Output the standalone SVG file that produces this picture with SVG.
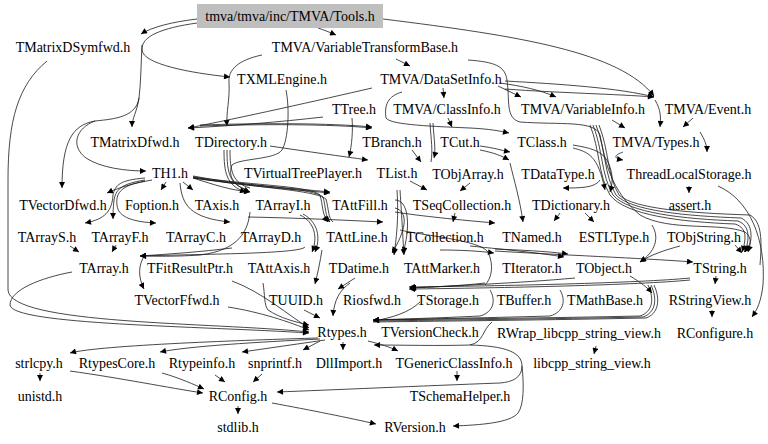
<svg xmlns="http://www.w3.org/2000/svg" width="768" height="444" viewBox="0 0 768 444">
<defs>
<marker id="ah" viewBox="0 0 10 10" refX="10" refY="5" markerWidth="8" markerHeight="6" markerUnits="userSpaceOnUse" orient="auto">
<path d="M0,0 L10,5 L0,10 z" fill="#000"/>
</marker>
<style>
text{font-family:"Liberation Serif","Times New Roman",serif;font-size:14px;fill:#000;text-anchor:middle}
.e path{fill:none;stroke:#1a1a1a;stroke-width:0.8}
.e .a{marker-end:url(#ah)}
</style>
</defs>
<rect width="768" height="444" fill="#fff"/>
<g class="e" id="edges">
<path class="a" d="M197,19 C172,22 152,27 141,34"/>
<path class="a" d="M318,28 C324,30 329,32 336,35"/>
<path class="a" d="M383,19 C520,36 620,52 654,96"/>
<path class="a" d="M197,23 C162,28 141,36 142,50 C143,64 190,73 230,77"/>
<path class="a" d="M142,45 C141,62 141,82 139,98 C137,112 132,118 132,127"/>
<path class="a" d="M139,98 C136,117 115,119 95,121 C72,125 62,142 62,188"/>
<path class="a" d="M95,121 C76,128 70,146 86,158 C101,168 126,171 146,171"/>
<path class="a" d="M47,61 C18,85 8,120 8,180 L8,290 C10,325 210,322 309,332"/>
<path class="a" d="M262,55 C238,60 228,70 229,82 C230,100 226,112 227,126"/>
<path class="a" d="M396,59 L410,66"/>
<path class="a" d="M468,60 C495,62 505,66 507,80 C510,100 505,118 520,122 C560,125 595,120 600,135 C605,160 610,190 640,215 C670,232 720,222 745,232 C755,240 748,248 744,252"/>
<path class="a" d="M443,88 L444,98"/>
<path class="a" d="M498,86 L521,97"/>
<path class="a" d="M500,83 C522,86 540,90 556,97"/>
<path class="a" d="M505,81 C560,84 620,88 654,97"/>
<path class="a" d="M505,89 C560,93 615,94 654,97"/>
<path class="a" d="M655,100 C661,110 661,118 660,127"/>
<path class="a" d="M693,118 L683,127"/>
<path class="a" d="M612,120 L625,128"/>
<path class="a" d="M372,88 C320,100 240,118 188,128"/>
<path class="a" d="M323,117 C280,122 230,126 188,128"/>
<path class="a" d="M200,125 C260,123 330,123 372,127"/>
<path class="a" d="M200,126 C260,124 330,124 372,128"/>
<path class="a" d="M402,92 C388,96 384,105 386,118 C390,124 420,126 470,128 C490,129 500,131 509,133"/>
<path class="a" d="M448,118 L452,127"/>
<path d="M430,123 C431,140 433,150 431,162"/>
<path class="a" d="M433,123 C434,140 436,150 434,158"/>
<path class="a" d="M270,146 C310,152 340,156 368,160"/>
<path class="a" d="M352,118 C353,130 352,145 349,157"/>
<path class="a" d="M286,90 C290,110 288,140 282,150 C275,160 240,158 232,165 C228,175 232,185 250,192"/>
<path class="a" d="M412,150 L421,162"/>
<path class="a" d="M480,150 C495,153 502,156 509,160"/>
<path class="a" d="M480,146 C495,148 500,150 510,152"/>
<path class="a" d="M623,152 C615,155 612,158 623,160"/>
<path class="a" d="M700,132 C705,140 707,146 707,152"/>
<path class="a" d="M689,186 L689,193"/>
<path class="a" d="M152,180 C135,183 120,187 107,193"/>
<path class="a" d="M166,182 L161,190"/>
<path class="a" d="M183,182 L193,190"/>
<path class="a" d="M193,178 C215,185 230,190 250,192"/>
<path class="a" d="M193,176 C240,185 290,188 330,192"/>
<path class="a" d="M193,177 C240,186 290,189 330,193"/>
<path class="a" d="M193,177 C260,186 310,186 320,195 C323,205 322,215 328,222"/>
<path class="a" d="M193,178 C260,187 312,188 323,197 C326,207 325,217 330,222"/>
<path d="M193,178 C260,188 314,190 326,199 C329,210 328,218 333,222"/>
<path class="a" d="M145,178 C120,180 115,185 113,195 C112,215 100,220 85,223"/>
<path class="a" d="M145,180 C120,184 116,190 114,200 C113,210 113,215 113,219"/>
<path class="a" d="M145,181 C118,186 116,195 117,205 C118,218 135,222 156,223"/>
<path class="a" d="M180,183 C182,205 190,218 230,222"/>
<path class="a" d="M248,217 C300,218 340,220 383,222"/>
<path class="a" d="M224,150 C224,172 226,186 246,192"/>
<path d="M227,150 C227,172 229,185 248,190"/>
<path d="M230,150 C230,170 232,183 250,188"/>
<path class="a" d="M145,255 C138,265 138,277 144,289"/>
<path class="a" d="M70,246 L79,252"/>
<path class="a" d="M116,245 L112,252"/>
<path class="a" d="M250,212 C248,230 240,250 200,255 C170,257 150,256 140,256"/>
<path class="a" d="M305,247 C300,254 200,254 140,256"/>
<path class="a" d="M232,248 C200,252 170,254 140,256"/>
<path class="a" d="M300,215 C315,222 318,238 312,252"/>
<path class="a" d="M303,214 C318,222 321,238 315,252"/>
<path class="a" d="M72,272 C40,278 10,290 10,305 C12,325 200,326 309,333"/>
<path class="a" d="M228,307 C260,312 290,322 309,330"/>
<path class="a" d="M232,281 C262,292 288,315 309,328"/>
<path class="a" d="M304,310 L320,318"/>
<path class="a" d="M350,283 C340,290 334,300 333,316"/>
<path class="a" d="M322,250 C320,262 318,272 315,284"/>
<path class="a" d="M355,278 L338,289"/>
<path class="a" d="M263,283 C265,295 264,305 268,310 C280,318 295,322 309,325"/>
<path class="a" d="M395,208 C410,212 405,232 392,253"/>
<path class="a" d="M395,200 C410,200 410,230 403,253"/>
<path class="a" d="M400,190 C402,220 403,240 404,255"/>
<path class="a" d="M397,190 C399,220 396,240 394,255"/>
<path class="a" d="M395,212 C420,216 460,220 495,223"/>
<path class="a" d="M410,181 L427,190"/>
<path class="a" d="M470,183 L460,191"/>
<path class="a" d="M455,213 L453,222"/>
<path class="a" d="M510,163 C514,180 520,200 523,222"/>
<path class="a" d="M600,180 C595,188 580,188 563,188"/>
<path class="a" d="M560,213 L554,221"/>
<path class="a" d="M585,213 L594,222"/>
<path class="a" d="M652,225 C660,238 655,252 640,262"/>
<path class="a" d="M495,249 C520,250 545,251 568,254"/>
<path class="a" d="M495,251 C560,255 640,258 693,262"/>
<path class="a" d="M440,250 C460,250 480,251 494,253"/>
<path class="a" d="M470,246 C510,250 540,253 564,257"/>
<path class="a" d="M735,245 L742,253"/>
<path class="a" d="M680,246 C665,250 650,255 640,262"/>
<path class="a" d="M590,125 C600,150 598,175 610,195 C625,215 680,222 735,224 C748,228 746,240 742,252"/>
<path class="a" d="M593,125 C603,150 601,175 613,195 C628,213 683,219 738,221 C751,226 749,240 745,252"/>
<path class="a" d="M596,125 C606,150 604,175 616,195 C631,211 686,216 741,218 C754,224 752,240 748,252"/>
<path d="M599,125 C609,150 607,175 619,195 C634,209 690,213 750,215 C762,222 762,240 760,265"/>
<path class="a" d="M573,145 C590,148 600,150 607,160 C612,170 614,180 610,192"/>
<path class="a" d="M573,148 C588,152 598,155 605,190"/>
<path class="a" d="M718,186 C750,200 766,240 763,285 C761,302 757,310 752,317"/>
<path class="a" d="M716,276 L715,284"/>
<path class="a" d="M712,310 L712,317"/>
<path class="a" d="M690,278 C640,283 500,286 409,287"/>
<path class="a" d="M690,280 C640,285 500,288 409,289"/>
<path class="a" d="M575,278 C520,283 450,286 410,288"/>
<path class="a" d="M485,283 C460,286 430,287 410,288"/>
<path d="M400,230 C420,235 480,240 488,252 C494,265 492,278 485,285"/>
<path class="a" d="M490,290 C496,300 494,312 480,316 C440,318 400,319 373,320"/>
<path class="a" d="M560,290 C566,300 564,312 550,316 C480,318 420,319 373,320"/>
<path class="a" d="M648,285 C655,300 652,312 640,316 C550,318 450,319 373,320"/>
<path d="M651,285 C658,300 655,313 643,317 C550,319 450,320 373,321"/>
<path d="M654,285 C661,300 658,314 646,318 C550,320 450,321 373,322"/>
<path class="a" d="M420,302 C410,312 392,318 373,321"/>
<path class="a" d="M630,276 C640,282 648,288 652,293"/>
<path class="a" d="M492,322 C482,330 484,342 470,345 C440,346 400,345 374,345"/>
<path class="a" d="M368,341 C380,344 390,347 398,351"/>
<path class="a" d="M470,345 C505,346 522,352 522,366 C522,378 512,382 500,383 C420,386 330,390 277,392"/>
<path class="a" d="M522,366 C524,385 524,405 518,413 C510,423 480,425 453,426"/>
<path class="a" d="M457,371 L457,381"/>
<path class="a" d="M596,346 L594,354"/>
<path class="a" d="M318,338 C250,340 100,345 70,353"/>
<path class="a" d="M320,339 C260,342 190,346 160,352"/>
<path class="a" d="M325,340 L242,352"/>
<path class="a" d="M320,341 L303,350"/>
<path class="a" d="M343,342 L343,350"/>
<path class="a" d="M40,373 L40,381"/>
<path class="a" d="M70,371 C120,378 170,388 203,393"/>
<path class="a" d="M162,373 C180,378 195,385 204,389"/>
<path class="a" d="M215,375 L225,382"/>
<path class="a" d="M262,374 L253,382"/>
<path class="a" d="M238,406 L238,414"/>
<path class="a" d="M272,403 C310,410 350,418 376,424"/>
</g>
<g font-family="Liberation Serif, Times New Roman, serif" font-size="14">
<g id="n_tools"><rect x="197" y="4" width="186" height="24" fill="#bfbfbf"/><text x="290" y="21">tmva/tmva/inc/TMVA/Tools.h</text></g>
<g id="n_TMatrixDSymfwd"><text x="73" y="52">TMatrixDSymfwd.h</text></g>
<g id="n_VariableTransformBase"><text x="365" y="52">TMVA/VariableTransformBase.h</text></g>
<g id="n_TXMLEngine"><text x="282" y="84">TXMLEngine.h</text></g>
<g id="n_DataSetInfo"><text x="441" y="84">TMVA/DataSetInfo.h</text></g>
<g id="n_TTree"><text x="354" y="114">TTree.h</text></g>
<g id="n_ClassInfo"><text x="447" y="114">TMVA/ClassInfo.h</text></g>
<g id="n_VariableInfo"><text x="583" y="114">TMVA/VariableInfo.h</text></g>
<g id="n_Event"><text x="708" y="114">TMVA/Event.h</text></g>
<g id="n_TMatrixDfwd"><text x="135" y="147">TMatrixDfwd.h</text></g>
<g id="n_TDirectory"><text x="231" y="147">TDirectory.h</text></g>
<g id="n_TBranch"><text x="392" y="147">TBranch.h</text></g>
<g id="n_TCut"><text x="460" y="147">TCut.h</text></g>
<g id="n_TClass"><text x="542" y="147">TClass.h</text></g>
<g id="n_Types"><text x="656" y="147">TMVA/Types.h</text></g>
<g id="n_TH1"><text x="170" y="178">TH1.h</text></g>
<g id="n_TVirtualTreePlayer"><text x="303" y="178">TVirtualTreePlayer.h</text></g>
<g id="n_TList"><text x="397" y="178">TList.h</text></g>
<g id="n_TObjArray"><text x="468" y="179">TObjArray.h</text></g>
<g id="n_TDataType"><text x="558" y="179">TDataType.h</text></g>
<g id="n_ThreadLocalStorage"><text x="689" y="179">ThreadLocalStorage.h</text></g>
<g id="n_TVectorDfwd"><text x="63" y="210">TVectorDfwd.h</text></g>
<g id="n_Foption"><text x="152" y="210">Foption.h</text></g>
<g id="n_TAxis"><text x="217" y="210">TAxis.h</text></g>
<g id="n_TArrayI"><text x="283" y="210">TArrayI.h</text></g>
<g id="n_TAttFill"><text x="360" y="210">TAttFill.h</text></g>
<g id="n_TSeqCollection"><text x="462" y="210">TSeqCollection.h</text></g>
<g id="n_TDictionary"><text x="571" y="210">TDictionary.h</text></g>
<g id="n_assert"><text x="690" y="210">assert.h</text></g>
<g id="n_TArrayS"><text x="47" y="242">TArrayS.h</text></g>
<g id="n_TArrayF"><text x="120" y="242">TArrayF.h</text></g>
<g id="n_TArrayC"><text x="196" y="242">TArrayC.h</text></g>
<g id="n_TArrayD"><text x="271" y="242">TArrayD.h</text></g>
<g id="n_TAttLine"><text x="357" y="242">TAttLine.h</text></g>
<g id="n_TCollection"><text x="445" y="242">TCollection.h</text></g>
<g id="n_TNamed"><text x="532" y="242">TNamed.h</text></g>
<g id="n_ESTLType"><text x="614" y="242">ESTLType.h</text></g>
<g id="n_TObjString"><text x="704" y="242">TObjString.h</text></g>
<g id="n_TArray"><text x="104" y="273">TArray.h</text></g>
<g id="n_TFitResultPtr"><text x="190" y="273">TFitResultPtr.h</text></g>
<g id="n_TAttAxis"><text x="279" y="273">TAttAxis.h</text></g>
<g id="n_TDatime"><text x="359" y="273">TDatime.h</text></g>
<g id="n_TAttMarker"><text x="442" y="273">TAttMarker.h</text></g>
<g id="n_TIterator"><text x="532" y="273">TIterator.h</text></g>
<g id="n_TObject"><text x="604" y="273">TObject.h</text></g>
<g id="n_TString"><text x="720" y="273">TString.h</text></g>
<g id="n_TVectorFfwd"><text x="177" y="305">TVectorFfwd.h</text></g>
<g id="n_TUUID"><text x="296" y="305">TUUID.h</text></g>
<g id="n_Riosfwd"><text x="372" y="305">Riosfwd.h</text></g>
<g id="n_TStorage"><text x="448" y="305">TStorage.h</text></g>
<g id="n_TBuffer"><text x="524" y="305">TBuffer.h</text></g>
<g id="n_TMathBase"><text x="605" y="305">TMathBase.h</text></g>
<g id="n_RStringView"><text x="710" y="305">RStringView.h</text></g>
<g id="n_Rtypes"><text x="342" y="337">Rtypes.h</text></g>
<g id="n_TVersionCheck"><text x="430" y="337">TVersionCheck.h</text></g>
<g id="n_RWrap"><text x="579" y="338">RWrap_libcpp_string_view.h</text></g>
<g id="n_RConfigure"><text x="715" y="338">RConfigure.h</text></g>
<g id="n_strlcpy"><text x="39" y="368">strlcpy.h</text></g>
<g id="n_RtypesCore"><text x="117" y="368">RtypesCore.h</text></g>
<g id="n_Rtypeinfo"><text x="202" y="368">Rtypeinfo.h</text></g>
<g id="n_snprintf"><text x="275" y="368">snprintf.h</text></g>
<g id="n_DllImport"><text x="349" y="368">DllImport.h</text></g>
<g id="n_TGenericClassInfo"><text x="454" y="368">TGenericClassInfo.h</text></g>
<g id="n_libcpp"><text x="592" y="368">libcpp_string_view.h</text></g>
<g id="n_unistd"><text x="40" y="401">unistd.h</text></g>
<g id="n_RConfig"><text x="238" y="401">RConfig.h</text></g>
<g id="n_TSchemaHelper"><text x="460" y="401">TSchemaHelper.h</text></g>
<g id="n_stdlib"><text x="238" y="432">stdlib.h</text></g>
<g id="n_RVersion"><text x="415" y="432">RVersion.h</text></g>
</g>
</svg>
